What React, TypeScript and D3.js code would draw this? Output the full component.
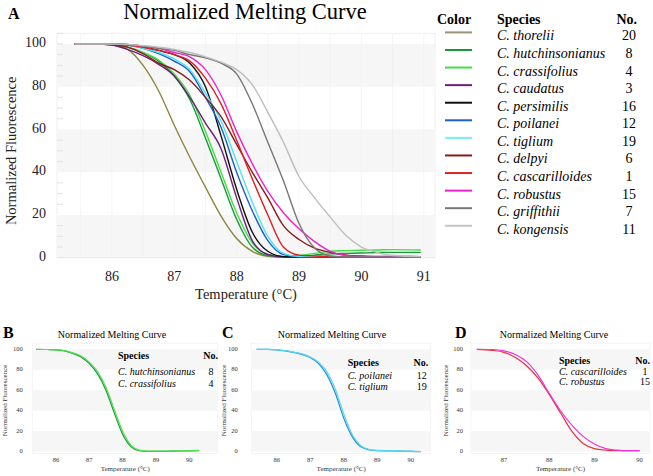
import React from 'react';
import * as d3 from 'd3';

const FONT = '"Liberation Serif", "Times New Roman", Times, serif';

// ---------- Main chart (A) data ----------
const temps = [85.4, 85.75, 86, 86.25, 86.5, 86.75, 87, 87.25, 87.5, 87.75, 88, 88.25, 88.5, 88.75, 89, 89.25, 89.5, 89.75, 90, 90.25, 90.5, 90.95];
const speciesNames = ['C. thorelii', 'C. hutchinsonianus', 'C. crassifolius', 'C. caudatus', 'C. persimilis', 'C. poilanei', 'C. tiglium', 'C. delpyi', 'C. cascarilloides', 'C. robustus', 'C. griffithii', 'C. kongensis'];
const speciesCounts = [20, 8, 4, 3, 16, 12, 19, 6, 1, 15, 7, 11];
const speciesColors = ['#8a883e', '#169a3c', '#3fe03f', '#6e1e7a', '#111111', '#1f5fc8', '#4fe3f3', '#8b1a1a', '#e02020', '#f020d0', '#777777', '#bdbdbd'];
const legendSwatchColors = ['#9a9474', '#169a3c', '#3fe03f', '#6e1e7a', '#111111', '#1f5fc8', '#6ff0f8', '#8b1a1a', '#e02020', '#f020d0', '#777777', '#c4c4c4'];

const thorelii = [100, 100, 99.5, 97.5, 90, 78, 62, 47, 33, 19.5, 9, 3, 0.6, 0.2, 0.2, 0.3, 0.3, 0.3, 0.3, 0.3, 0.3, 0.3];
const hutchinsonianus = [100, 100, 99.7, 98.5, 96, 92, 85, 74, 56, 37, 18, 5, 1, 0.5, 0.8, 1.2, 1.8, 2, 2.2, 2.4, 2.5, 2.5];
const crassifolius = [100, 100, 99.7, 98.5, 96, 92.5, 86, 76, 59, 40, 21, 7, 1.5, 0.5, 1, 2, 3, 3.3, 3.5, 3.6, 3.8, 3.6];
const caudatus = [100, 100, 99.5, 97.5, 94.5, 90.5, 85, 75, 63, 51, 28, 8, 1.5, 0.3, 0.2, 0.3, 0.4, 0.5, 0.5, 0.5, 0.5, 0.5];
const persimilis = [100, 100, 100, 99.5, 98.5, 97, 95, 91, 80, 57, 32, 12, 3, 0.5, 0.3, 0.3, 0.3, 0.3, 0.3, 0.3, 0.3, 0.3];
const poilanei = [100, 100, 100, 99.5, 98, 95.5, 92, 87, 75, 61, 40, 22, 8, 1.5, 0.5, 0.5, 0.5, 0.5, 0.5, 0.5, 0.5, 0.5];
const tiglium = [100, 100, 100, 99.5, 98, 96, 93, 88, 77, 64, 45, 26, 10, 2, 0.5, 0.5, 0.5, 0.5, 0.5, 0.5, 0.5, 0.5];
const delpyi = [100, 100, 99.8, 98.5, 95.5, 91, 88, 83, 75, 66, 53, 40, 28, 15, 8.5, 4.5, 2.5, 1.2, 0.8, 0.6, 0.6, 0.5];
const cascarilloides = [100, 100, 100, 99.5, 98.5, 97, 95, 92, 84, 72, 55, 37, 20, 5, 1.2, 0.8, 0.6, 0.5, 0.5, 0.5, 0.5, 0.5];
const robustus = [100, 100, 100, 99.8, 99, 98, 96, 94, 88, 76, 59, 44, 31, 21, 13.5, 7.5, 3, 1, 0.5, 0.5, 0.5, 0.5];
const griffithii = [100, 100, 100, 99.8, 99, 98, 97, 95, 93.5, 91, 86, 72, 54, 36, 16, 4.5, 0.8, 0.3, 0.3, 0.3, 0.3, 0.3];
const kongensis = [100, 100, 100, 99.8, 99.2, 98.5, 97.5, 96, 94, 91.5, 88, 81, 68, 54, 38, 28, 19, 10.5, 5, 2.5, 1, 0.5];
const mainSeries = [thorelii, hutchinsonianus, crassifolius, caudatus, persimilis, poilanei, tiglium, delpyi, cascarilloides, robustus, griffithii, kongensis];

const yTicks = [0, 20, 40, 60, 80, 100];
const yMinorTicks = [5, 10, 15, 25, 30, 35, 45, 50, 55, 65, 70, 75, 85, 90, 95, 100, 105];
const xTicksMain = [86, 87, 88, 89, 90, 91];
const xGridMain = [85.5, 86, 86.5, 87, 87.5, 88, 88.5, 89, 89.5, 90, 90.5, 91];
const bands = [[0, 20], [40, 60], [80, 100]];

// ---------- Panel B ----------
const tempsB = [85.4, 85.75, 86, 86.25, 86.5, 86.75, 87, 87.25, 87.5, 87.75, 88, 88.25, 88.5, 88.75, 89, 89.5, 90, 90.3];
const hutchB = [100, 99.8, 99.5, 98.5, 96, 92.5, 86, 76, 60, 38, 17, 5, 1, 0.3, 0.3, 0.5, 0.8, 1];
const crassB = [100, 99.8, 99.5, 98.7, 96.5, 93.5, 87.5, 78, 63, 41, 20, 6.5, 1.5, 0.5, 0.6, 0.8, 1, 1.2];
const namesB = ['C. hutchinsonianus', 'C. crassifolius'];
const countsB = [8, 4];
const xTicksB = [86, 87, 88, 89, 90];

// ---------- Panel C ----------
const tempsC = [85.4, 85.75, 86, 86.25, 86.5, 86.75, 87, 87.25, 87.5, 87.75, 88, 88.25, 88.5, 88.75, 89, 89.5, 90, 90.3];
const poilC = [100, 100, 99.5, 98.5, 97, 95, 92, 86, 75, 57, 33, 15, 5, 2, 1, 0.8, 0.3, 0];
const tigC = [100, 100, 99.5, 98.7, 97.3, 95.5, 92.5, 87.5, 78, 61, 37, 17, 6, 2.2, 1.2, 1, 0.5, 0.2];
const namesC = ['C. poilanei', 'C. tiglium'];
const countsC = [12, 19];
const xTicksC = [86, 87, 88, 89, 90];

// ---------- Panel D ----------
const tempsD = [86.4, 86.75, 87, 87.25, 87.5, 87.75, 88, 88.25, 88.5, 88.75, 89, 89.25, 89.5, 89.75, 90];
const cascD = [100, 99, 97, 92, 84, 72, 56, 38, 20, 8, 3, 1.5, 1, 1, 1];
const robD = [100, 99.8, 98.5, 95, 88, 75, 57, 40, 26, 15, 7.5, 3, 1.5, 1, 1];
const namesD = ['C. cascarilloides', 'C. robustus'];
const countsD = [1, 15];
const xTicksD = [87, 88, 89, 90];

const BAND = '#f6f6f6';

function Panel(props: any) {
  const { letter, letterX, xDomain, xRange, xTicks, temps, series, colors, names, counts, titleX, yLabelX, yTitleX, legend } = props;
  const x = d3.scaleLinear().domain(xDomain).range(xRange);
  const y = d3.scaleLinear().domain([0, 100]).range([451.7, 349.3]);
  const line = d3.line<number>().x((_, i) => x(temps[i])).y((d) => y(d)).curve(d3.curveMonotoneX);
  const top = y(106), bottom = y(-2);
  return (
    <g>
      <text x={letterX} y={338} fontSize={16} fontWeight="bold">{letter}</text>
      <text x={titleX} y={338} fontSize={10} textAnchor="middle">Normalized Melting Curve</text>
      <rect x={xRange[0]} y={top} width={xRange[1] - xRange[0]} height={bottom - top} fill="#fff" stroke="#eeeeee" strokeWidth={0.6} />
      {bands.map((b, i) => (
        <rect key={i} x={xRange[0]} y={y(b[1])} width={xRange[1] - xRange[0]} height={y(b[0]) - y(b[1])} fill={BAND} />
      ))}
      {yTicks.map((t) => (
        <text key={t} x={yLabelX} y={y(t)} fontSize={6.5} textAnchor="end" dominantBaseline="middle" fill="#333">{t}</text>
      ))}
      {xTicks.map((t: number) => (
        <text key={t} x={x(t)} y={461} fontSize={6.5} textAnchor="middle" dominantBaseline="middle" fill="#333">{t}</text>
      ))}
      <text x={(xRange[0] + xRange[1]) / 2} y={469.5} fontSize={7} textAnchor="middle" dominantBaseline="middle" fill="#333">Temperature (°C)</text>
      <text transform={`translate(${yTitleX},${y(50)}) rotate(-90)`} fontSize={7} textAnchor="middle" dominantBaseline="middle" fill="#333">Normalized Fluorescence</text>
      {series.map((s: number[], i: number) => (
        <path key={i} d={line(s) || ''} fill="none" stroke={colors[i]} strokeWidth={1.2} />
      ))}
      <text x={legend.x} y={legend.headY} fontSize={10} fontWeight="bold" dominantBaseline="middle">Species</text>
      <text x={legend.noRight} y={legend.headY} fontSize={10} fontWeight="bold" textAnchor="end" dominantBaseline="middle">No.</text>
      {names.map((n: string, i: number) => (
        <g key={n}>
          <text x={legend.x} y={legend.rowY[i]} fontSize={10} fontStyle="italic" dominantBaseline="middle">{n}</text>
          <text x={legend.numX} y={legend.rowY[i]} fontSize={10} textAnchor="middle" dominantBaseline="middle">{counts[i]}</text>
        </g>
      ))}
    </g>
  );
}

export default function App() {
  const x = d3.scaleLinear().domain([85.12, 91.18]).range([57, 435]);
  const y = d3.scaleLinear().domain([0, 105]).range([257.7, 33.3]);
  const line = d3.line<number>().x((_, i) => x(temps[i])).y((d) => y(d)).curve(d3.curveMonotoneX);
  const [x0, x1] = x.range();
  const legendRowY = speciesNames.map((_, i) => 32.4 + i * 17.58);

  return (
    <svg width={653} height={476} style={{ position: 'absolute', left: 0, top: 0, background: '#fff', fontFamily: FONT }}>
      <rect x={0} y={0} width={653} height={476} fill="#fff" />
      {/* Panel A */}
      <text x={8} y={19} fontSize={16} fontWeight="bold">A</text>
      <text x={245} y={18.5} fontSize={22.5} textAnchor="middle">Normalized Melting Curve</text>
      <rect x={x0} y={y(105)} width={x1 - x0} height={y(0) - y(105)} fill="#fff" stroke="#ececec" strokeWidth={0.8} />
      {bands.map((b, i) => (
        <rect key={i} x={x0} y={y(b[1])} width={x1 - x0} height={y(b[0]) - y(b[1])} fill={BAND} />
      ))}
      {xGridMain.map((t) => (
        <line key={t} x1={x(t)} x2={x(t)} y1={y(105)} y2={y(0)} stroke="#eeeeee" strokeWidth={0.6} />
      ))}
      {yMinorTicks.map((t) => (
        <line key={t} x1={x0} x2={x0 + 6} y1={y(t)} y2={y(t)} stroke="#dddddd" strokeWidth={0.8} />
      ))}
      <line x1={x0} x2={x1} y1={y(0)} y2={y(0)} stroke="#e6e6e6" strokeWidth={0.8} />
      {yTicks.map((t) => (
        <text key={t} x={46} y={y(t)} fontSize={14} textAnchor="end" dominantBaseline="middle" fill="#222">{t}</text>
      ))}
      {xTicksMain.map((t) => (
        <text key={t} x={x(t)} y={277.5} fontSize={14} textAnchor="middle" dominantBaseline="middle" fill="#222">{t}</text>
      ))}
      <text x={(x0 + x1) / 2} y={296} fontSize={14.5} textAnchor="middle" dominantBaseline="middle" fill="#222">Temperature (°C)</text>
      <text transform={`translate(13,${y(50)}) rotate(-90)`} fontSize={14.5} textAnchor="middle" dominantBaseline="middle" fill="#222">Normalized Fluorescence</text>
      {mainSeries.map((s, i) => (
        <path key={i} d={line(s) || ''} fill="none" stroke={speciesColors[i]} strokeWidth={1.4} />
      ))}

      {/* Legend */}
      <text x={437} y={21} fontSize={14} fontWeight="bold" dominantBaseline="middle">Color</text>
      <text x={497} y={21} fontSize={14} fontWeight="bold" dominantBaseline="middle">Species</text>
      <text x={637} y={21} fontSize={14} fontWeight="bold" textAnchor="end" dominantBaseline="middle">No.</text>
      {speciesNames.map((n, i) => (
        <g key={n}>
          <line x1={445} x2={472} y1={legendRowY[i]} y2={legendRowY[i]} stroke={legendSwatchColors[i]} strokeWidth={2} />
          <text x={497} y={legendRowY[i] + 4.8} fontSize={14} fontStyle="italic" dominantBaseline="middle">{n}</text>
          <text x={629} y={legendRowY[i] + 4.8} fontSize={14} textAnchor="middle" dominantBaseline="middle">{speciesCounts[i]}</text>
        </g>
      ))}

      <Panel letter="B" letterX={3} xDomain={[85.3, 90.86]} xRange={[32.7, 217.8]} xTicks={xTicksB}
        temps={tempsB} series={[hutchB, crassB]} colors={['#169a3c', '#4fe04f']} names={namesB} counts={countsB}
        titleX={112} yLabelX={22.7} yTitleX={5}
        legend={{ x: 118, headY: 357, noRight: 218, numX: 211, rowY: [373, 384.3] }} />
      <Panel letter="C" letterX={222} xDomain={[85.25, 90.6]} xRange={[251.6, 430.8]} xTicks={xTicksC}
        temps={tempsC} series={[poilC, tigC]} colors={['#2a8ad8', '#55d8f2']} names={namesC} counts={countsC}
        titleX={332} yLabelX={237.7} yTitleX={224.3}
        legend={{ x: 347.7, headY: 363.3, noRight: 428.3, numX: 421.7, rowY: [376.7, 387.3] }} />
      <Panel letter="D" letterX={455} xDomain={[86.27, 90.23]} xRange={[471, 650]} xTicks={xTicksD}
        temps={tempsD} series={[cascD, robD]} colors={['#e8303a', '#ee33dd']} names={namesD} counts={countsD}
        titleX={554} yLabelX={463} yTitleX={446.3}
        legend={{ x: 559, headY: 361.7, noRight: 650, numX: 645, rowY: [372.7, 382.7] }} />
    </svg>
  );
}
